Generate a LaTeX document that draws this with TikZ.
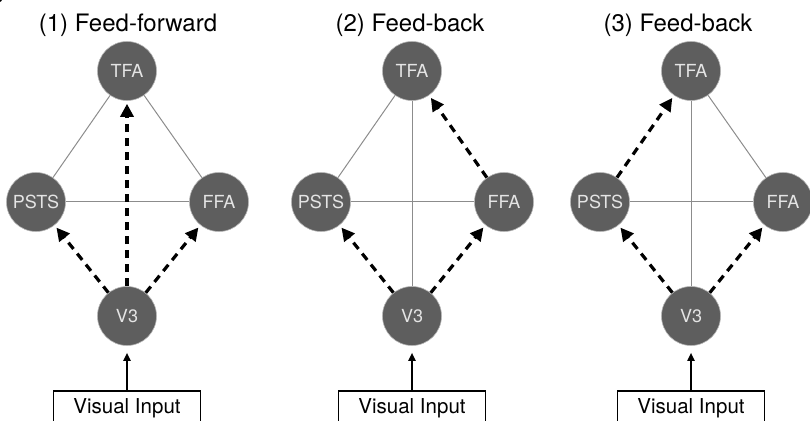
\documentclass[tikz,border=0pt]{standalone}
\usepackage{fontspec}
\setmainfont{TeX Gyre Heros}
\usetikzlibrary{arrows.meta}

\definecolor{nodegray}{HTML}{5E5E5E}
\definecolor{rimgray}{HTML}{B4B4B4}
\definecolor{nodetext}{HTML}{E4E4E4}
\definecolor{linkgray}{HTML}{8C8C8C}

\tikzset{
  region/.style={circle, fill=nodegray, draw=rimgray, line width=0.6pt,
    minimum size=59pt, inner sep=0pt, text=nodetext,
    font=\fontsize{18}{18}\selectfont},
  link/.style={draw=linkgray, line width=1pt},
  flow/.style={-{Triangle[length=13pt,width=13pt]}, line width=3.2pt,
    dash pattern=on 8pt off 6pt, shorten >=3pt},
  feed/.style={-{Triangle[length=8pt,width=7pt]}, line width=1.8pt, shorten >=7pt},
  inbox/.style={draw, line width=1.6pt, inner xsep=20pt, inner ysep=0pt,
    text height=22pt, text depth=10pt, anchor=base,
    font=\fontsize{20.5}{20.5}\selectfont},
  caption/.style={anchor=base, font=\fontsize{24}{24}\selectfont}
}

\begin{document}
\begin{tikzpicture}[x=1pt, y=1pt]
    \useasboundingbox (0,0) rectangle (810,420);
    \clip (0,0) rectangle (810,420);
    
    % stray mark in the corner
    \fill (-8,428) circle (13);
    
    \foreach \p/\x/\tx/\t in {1/127/128/{(1) Feed-forward},
                              2/412/410/{(2) Feed-back},
                              3/691/678/{(3) Feed-back}} {
        \node[caption] at (\tx,388) {\t};
        
        \node[region] (tfa\p) at (\x,349) {TFA};
        \node[region] (psts\p) at (\x-91,218) {PSTS};
        \node[region] (ffa\p) at (\x+92,218) {FFA};
        \node[region] (vthree\p) at (\x,104) {V3};
        \node[inbox] (in\p) at (\x,7) {Visual Input};
        
        \draw[feed] (in\p) -- (vthree\p);
        \draw[link] (psts\p) -- (ffa\p);
        \draw[flow] (vthree\p) -- (psts\p);
        \draw[flow] (vthree\p) -- (ffa\p);
    }
    
    % (1)
    \draw[link] (tfa1) -- (psts1);
    \draw[link] (tfa1) -- (ffa1);
    \draw[flow] (vthree1) -- (tfa1);
    
    % (2)
    \draw[link] (tfa2) -- (psts2);
    \draw[link] (tfa2) -- (vthree2);
    \draw[flow] (ffa2) -- (tfa2);
    
    % (3)
    \draw[link] (tfa3) -- (ffa3);
    \draw[link] (tfa3) -- (vthree3);
    \draw[flow] (psts3) -- (tfa3);
\end{tikzpicture}
\end{document}
